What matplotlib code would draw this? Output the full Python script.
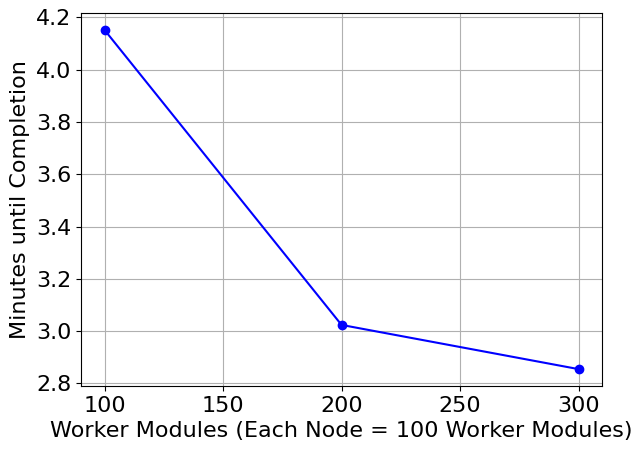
import matplotlib
matplotlib.use("Agg")
import matplotlib.pyplot as plt

# worker modules vs minutes until completion
workers = [100, 200, 300]
minutes = [4.152, 3.024, 2.855]

plt.rcParams["font.size"] = 16

fig, ax = plt.subplots(figsize=(6.42, 4.51), dpi=100)
ax.plot(workers, minutes, marker="o", color="blue")
ax.set_xlabel("Worker Modules (Each Node = 100 Worker Modules)")
ax.set_ylabel("Minutes until Completion")
ax.grid(True)
ax.set_xticks([100, 150, 200, 250, 300])
ax.set_yticks([2.8, 3.0, 3.2, 3.4, 3.6, 3.8, 4.0, 4.2])

fig.subplots_adjust(left=0.126, right=0.938, top=0.971, bottom=0.144)
fig.savefig("out.png", dpi=100)
plt.close(fig)
